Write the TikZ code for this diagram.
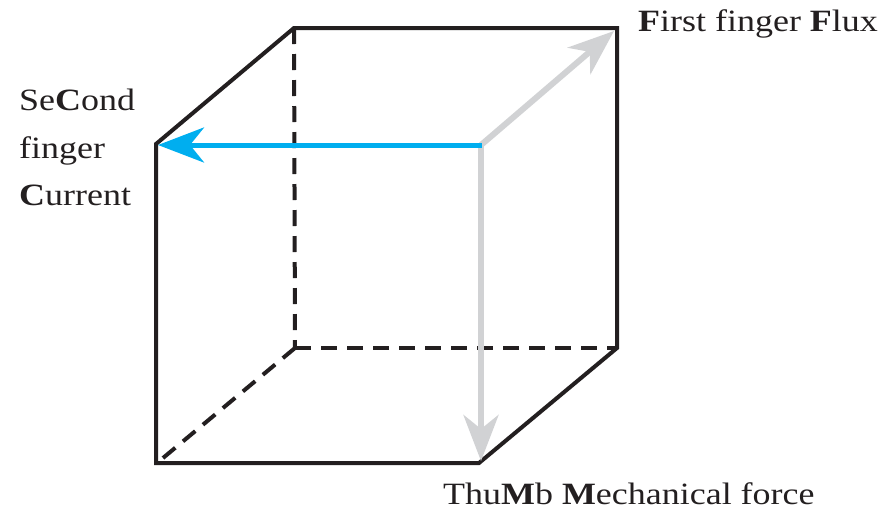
\documentclass[tikz,border=0pt]{standalone}
\usepackage{fontspec}
\setmainfont{Liberation Serif}[FakeStretch=1.16]
\usetikzlibrary{arrows.meta}
\definecolor{ink}{HTML}{231F20}
\definecolor{cyanarrow}{HTML}{00AEEF}
\definecolor{greyarrow}{HTML}{D1D2D4}
\begin{document}
\begin{tikzpicture}[x=1pt,y=-1pt,
  edge/.style={draw=ink,line width=4pt,line join=miter},
  hidden/.style={draw=ink,line width=4pt,dash pattern=on 16pt off 10pt},
  vec/.style={line width=6pt,-{Stealth[length=46pt,width=35pt,inset=14pt]}},
  lbl/.style={inner sep=0pt,text=ink,font=\fontsize{31}{37}\selectfont}]
\useasboundingbox (0,0) rectangle (886,512);
% corners
\coordinate (ftl) at (156,144);
\coordinate (fbl) at (156,463);
\coordinate (fbr) at (479,463);
\coordinate (btl) at (294,28);
\coordinate (btr) at (617,28);
\coordinate (bbr) at (617,348);
\coordinate (bbl) at (295,348);
\coordinate (o) at (481,145);
\coordinate (otip) at (614,31);
\coordinate (dtip) at (481,461);
\coordinate (ltip) at (158,145);
\coordinate (dstart) at (163,458);
% hidden edges
\draw[hidden] (btl) -- (bbl);
\draw[hidden] (bbl) -- (bbr);
\draw[hidden] (dstart) -- (bbl);
% visible edges
\draw[edge] (ftl) -- (fbl) -- (fbr) -- (bbr) -- (btr) -- (btl) -- cycle;
% arrows
\draw[vec,greyarrow] (o) -- (otip);
\draw[vec,greyarrow] ([yshift=2pt]o) -- (dtip);
\draw[vec,cyanarrow,line width=5pt] ([xshift=1pt]o) -- (ltip);
% labels
\node[lbl,anchor=base west] (flux) at (638,31) {\textbf{F}irst finger \textbf{F}lux};
\node[lbl,anchor=base west] (sec1) at (19,110) {Se\textbf{C}ond};
\node[lbl,anchor=base west] (sec2) at (19,158) {finger};
\node[lbl,anchor=base west] (sec3) at (19,205) {\textbf{C}urrent};
\node[lbl,anchor=base west] (thumb) at (443,504) {Thu\textbf{M}b \textbf{M}echanical force};
\end{tikzpicture}
\end{document}
